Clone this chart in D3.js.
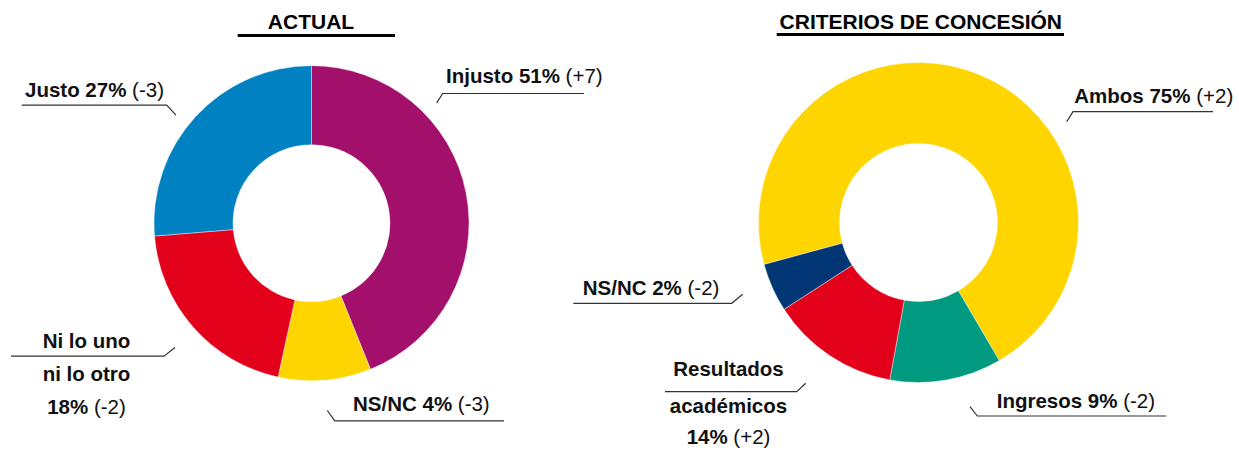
<!DOCTYPE html>
<html>
<head>
<meta charset="utf-8">
<script src="https://cdn.jsdelivr.net/npm/d3@7"></script>
<style>
  body { margin: 0; background: #fff; }
  svg { display: block; }
</style>
</head>
<body>
<div id="chart"></div>
<script>
// ---- data: ACTUAL ----
var actualNames = [["Injusto"], ["NS/NC"], ["Ni lo uno", "ni lo otro"], ["Justo"]];
var actualPct = [51, 4, 18, 27];
var actualChange = ["+7", "-3", "-2", "-3"];
var actualArc = [43.9, 9.5, 20.3, 26.3]; // slice sizes as drawn in the original
var actualColors = ["#a3106c", "#ffd500", "#e2001a", "#0082c2"];

// ---- data: CRITERIOS DE CONCESIÓN ----
var critNames = [["Ambos"], ["Ingresos"], ["Resultados", "académicos"], ["NS/NC"]];
var critPct = [75, 9, 14, 2];
var critChange = ["+2", "-2", "+2", "-2"];
var critArc = [70.8, 11.3, 13.0, 4.9];
var critColors = ["#ffd500", "#009a80", "#e2001a", "#003673"];

var width = 1239, height = 450;
var font = "'Liberation Sans', Arial, Helvetica, sans-serif";

// label layout, offsets from the donut centre
var actualLayout = [
  {x: 134.5, y: [-140.3], anchor: "start", ul: [131.2, 272.5, -129.7], tick: [125.2, -120.3]},
  {x: 41.5, y: [188], anchor: "start", ul: [23.3, 192.5, 197.7], tick: [15.8, 187.3]},
  {x: -225, y: [125.3, 158, 191.3], anchor: "middle", ul: [-300.5, -147.5, 133], tick: [-136.5, 124.3]},
  {x: -286.5, y: [-126.3], anchor: "start", ul: [-289.8, -144.8, -118], tick: [-135.5, -108]}
];
var critLayout = [
  {x: 155.8, y: [-119.2], anchor: "start", ul: [154.5, 294.5, -110.8], tick: [148.2, -100.8]},
  {x: 78.2, y: [185.8], anchor: "start", ul: [58.8, 247.5, 193.5], tick: [51.5, 184.2]},
  {x: -190, y: [153.5, 190.8, 221], anchor: "middle", ul: [-253.5, -121.8, 169.2], tick: [-112.8, 160.8]},
  {x: -335.8, y: [72.5], anchor: "start", ul: [-345.2, -186.8, 80.8], tick: [-175.8, 71.8]}
];

var svg = d3.select("#chart").append("svg")
  .attr("width", width)
  .attr("height", height);

function drawDonut(opt) {
  var g = svg.append("g")
    .attr("transform", "translate(" + opt.cx + "," + opt.cy + ")");

  var items = opt.arc.map(function(v, i) {
    return {value: v, color: opt.colors[i]};
  });

  var start = opt.startDeg * Math.PI / 180;
  var pie = d3.pie()
    .sort(null)
    .value(function(d) { return d.value; })
    .startAngle(start)
    .endAngle(start + 2 * Math.PI);

  var arc = d3.arc()
    .innerRadius(opt.inner)
    .outerRadius(opt.outer);

  g.selectAll("path.slice")
    .data(pie(items))
    .enter()
    .append("path")
    .attr("class", "slice")
    .attr("d", arc)
    .attr("fill", function(d) { return d.data.color; })
    .attr("stroke", "#fff")
    .attr("stroke-width", 0.4);

  // labels with underline + small leader tick
  opt.names.forEach(function(nameLines, i) {
    var lay = opt.layout[i];
    var lines = [];
    if (nameLines.length === 1) {
      lines.push([{t: nameLines[0] + " " + opt.pct[i] + "%", b: true}, {t: " (" + opt.change[i] + ")", b: false}]);
    } else {
      nameLines.forEach(function(n) { lines.push([{t: n, b: true}]); });
      lines.push([{t: opt.pct[i] + "%", b: true}, {t: " (" + opt.change[i] + ")", b: false}]);
    }

    lines.forEach(function(segs, j) {
      var txt = g.append("text")
        .attr("x", lay.x)
        .attr("y", lay.y[j])
        .attr("text-anchor", lay.anchor)
        .style("font-family", font)
        .style("font-size", "20.5px")
        .style("fill", "#111");
      segs.forEach(function(s) {
        txt.append("tspan")
          .attr("font-weight", s.b ? "bold" : "normal")
          .style("white-space", "pre")
          .text(s.t);
      });
    });

    var x1 = lay.ul[0], x2 = lay.ul[1], uy = lay.ul[2];
    var pts = lay.tick[0] < x1
      ? [lay.tick, [x1, uy], [x2, uy]]
      : [[x1, uy], [x2, uy], lay.tick];
    g.append("path")
      .attr("d", d3.line()(pts))
      .attr("fill", "none")
      .attr("stroke", "#333")
      .attr("stroke-width", 1.2);
  });
}

function drawTitle(text, cx, ulx1, ulx2, uly) {
  svg.append("text")
    .attr("x", cx)
    .attr("y", 29.3)
    .attr("text-anchor", "middle")
    .style("font-family", font)
    .style("font-size", "21px")
    .style("font-weight", "bold")
    .style("fill", "#000")
    .text(text);
  svg.append("line")
    .attr("x1", ulx1).attr("x2", ulx2)
    .attr("y1", uly).attr("y2", uly)
    .attr("stroke", "#000")
    .attr("stroke-width", 3);
}

drawTitle("ACTUAL", 311, 237.7, 395, 35.5);
drawTitle("CRITERIOS DE CONCESIÓN", 920.8, 776.7, 1064, 34.5);

drawDonut({
  cx: 311.5, cy: 223.2, outer: 157.5, inner: 78.5, startDeg: 0,
  names: actualNames, pct: actualPct, change: actualChange,
  arc: actualArc, colors: actualColors, layout: actualLayout
});

drawDonut({
  cx: 918.5, cy: 222.5, outer: 160, inner: 79, startDeg: -105.2,
  names: critNames, pct: critPct, change: critChange,
  arc: critArc, colors: critColors, layout: critLayout
});
</script>
</body>
</html>
